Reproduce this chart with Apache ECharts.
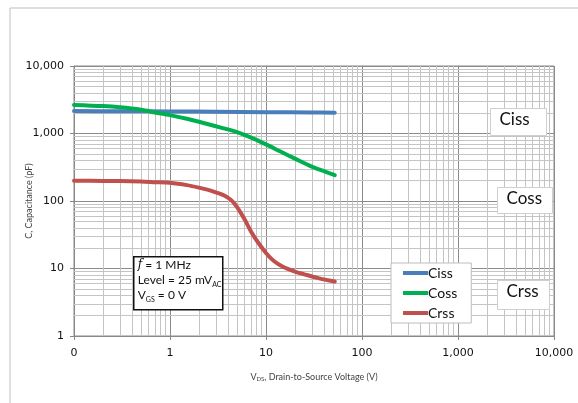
<!DOCTYPE html>
<html>
<head>
<meta charset="utf-8">
<script src="https://cdn.jsdelivr.net/npm/echarts@6/dist/echarts.min.js"></script>
<style>
  html, body { margin: 0; padding: 0; background: #fff; }
  #chart { width: 578px; height: 403px; }
</style>
</head>
<body>
<div id="chart"></div>
<script>
// axis ranges (log decades)
const xTicks = [0.1, 1, 10, 100, 1000, 10000];
const yTicks = [1, 10, 100, 1000, 10000];

// Ciss / Coss / Crss, V_DS in volts, C in pF
const cissV = [0.1, 0.3, 1, 3, 10, 30, 52];
const cissC = [2150, 2140, 2120, 2100, 2070, 2050, 2030];

const cossV = [0.1, 0.2, 0.3, 0.5, 0.7, 1, 1.5, 2, 3, 4, 5, 7, 10, 14, 20, 30, 40, 52];
const cossC = [2650, 2550, 2450, 2250, 2050, 1870, 1650, 1490, 1280, 1150, 1050, 870, 690, 545, 425, 323, 276, 241];

const crssV = [0.1, 0.2, 0.3, 0.5, 0.7, 1, 1.5, 2, 2.5, 3, 3.5, 4, 4.5, 5, 6, 7, 8, 10, 12, 15, 20, 25, 35, 52];
const crssC = [200, 198, 197, 194, 190, 186, 172, 158, 146, 134, 124, 112, 98, 81, 53, 35, 26, 17, 13, 10.6, 9, 8.2, 7.2, 6.4];

const seriesNames = ['Ciss', 'Coss', 'Crss'];
const seriesColors = ['#4a7ebb', '#00b050', '#c0504d'];

const chart = echarts.init(document.getElementById('chart'));

// minor log grid lines (2..9 in every decade)
const minorX = [];
for (let d = 0; d < xTicks.length - 1; d++) {
  for (let k = 2; k <= 9; k++) minorX.push({ xAxis: xTicks[d] * k });
}
const minorY = [];
for (let d = 0; d < yTicks.length - 1; d++) {
  for (let k = 2; k <= 9; k++) minorY.push({ yAxis: yTicks[d] * k });
}

const pairs = (xs, ys) => xs.map((x, i) => [x, ys[i]]);
const fmt = v => (v < 0.5 ? '0' : Math.round(v).toLocaleString('en-US'));

const curve = (name, xs, ys, i) => ({
  name,
  type: 'line',
  data: pairs(xs, ys),
  smooth: 0.3,
  symbol: 'none',
  z: 6,
  lineStyle: { color: seriesColors[i], width: 4, cap: 'round', join: 'round' },
  itemStyle: { color: seriesColors[i] },
});

const labelBox = (text, left, top, w, h) => ({
  type: 'group',
  left, top,
  z: 100,
  children: [
    { type: 'rect', z: 100, shape: { x: 0, y: 0, width: w, height: h },
      style: { fill: '#fff', stroke: '#cfcfcf', lineWidth: 1 } },
    { type: 'text', z: 101, left: 9, top: 3,
      style: { text, font: '17px Lato', fill: '#111' } },
  ],
});

const option = {
  animation: false,
  backgroundColor: '#fff',
  grid: { left: 74, right: 24, top: 66, bottom: 67, show: true, borderColor: '#888', borderWidth: 1 },
  xAxis: {
    type: 'log',
    logBase: 10,
    min: 0.1,
    max: 10000,
    splitNumber: 5,
    name: 'V{s|DS}, Drain-to-Source Voltage (V)',
    nameLocation: 'middle',
    nameMoveOverlap: false,
    nameGap: 37,
    nameTextStyle: {
      fontFamily: 'Lato', fontSize: 9, color: '#444',
      rich: { s: { fontFamily: 'Lato', fontSize: 6, color: '#444', verticalAlign: 'bottom', lineHeight: 6 } },
    },
    axisLine: { lineStyle: { color: '#888' } },
    axisTick: { show: true, length: 4, lineStyle: { color: '#888' } },
    axisLabel: { formatter: fmt, fontFamily: 'DejaVu Sans', fontSize: 11, color: '#111', margin: 12 },
    splitLine: { show: true, lineStyle: { color: '#8c8c8c', width: 1 } },
  },
  yAxis: {
    type: 'log',
    logBase: 10,
    min: 1,
    max: 10000,
    splitNumber: 4,
    name: 'C, Capacitance (pF)',
    nameLocation: 'middle',
    nameRotate: 90,
    nameMoveOverlap: false,
    nameGap: 40,
    nameTextStyle: { fontFamily: 'Lato', fontSize: 9, color: '#444' },
    axisLine: { show: true, lineStyle: { color: '#888' } },
    axisTick: { show: true, length: 4, lineStyle: { color: '#888' } },
    axisLabel: { formatter: fmt, fontFamily: 'DejaVu Sans', fontSize: 11, color: '#111', margin: 10 },
    splitLine: { show: true, lineStyle: { color: '#8c8c8c', width: 1 } },
  },
  legend: {
    data: seriesNames,
    orient: 'vertical',
    left: 391,
    top: 263,
    z: 50,
    icon: 'rect',
    itemWidth: 25,
    itemHeight: 4,
    itemGap: 4,
    padding: [2, 14, 2, 12],
    backgroundColor: '#fff',
    borderColor: '#bdbdbd',
    borderWidth: 1,
    borderRadius: 0,
    textStyle: { fontFamily: 'Lato', fontSize: 14, color: '#111', padding: [0, 0, 0, -5], lineHeight: 16 },
  },
  series: [
    {
      name: 'grid',
      type: 'line',
      data: [],
      silent: true,
      z: 1,
      markLine: {
        silent: true,
        z: 1,
        symbol: ['none', 'none'],
        label: { show: false },
        animation: false,
        lineStyle: { color: '#c4c4c4', width: 1, type: 'solid' },
        data: minorX.concat(minorY),
      },
    },
    curve(seriesNames[0], cissV, cissC, 0),
    curve(seriesNames[1], cossV, cossC, 1),
    curve(seriesNames[2], crssV, crssC, 2),
  ],
  graphic: [
    // outer frame (top and left edges only visible)
    { type: 'line', shape: { x1: 10, y1: 8, x2: 578, y2: 8 }, style: { stroke: '#bfbfbf', lineWidth: 1 } },
    { type: 'line', shape: { x1: 10, y1: 8, x2: 10, y2: 403 }, style: { stroke: '#bfbfbf', lineWidth: 1 } },
    labelBox('Ciss', 490, 108, 56, 27),
    labelBox('Coss', 497, 187, 55, 26),
    labelBox('Crss', 497, 280, 52, 29),
    {
      type: 'group',
      left: 133, top: 256,
      z: 100,
      children: [
        { type: 'rect', z: 100, shape: { x: 0, y: 0, width: 89, height: 53 },
          style: { fill: '#fff', stroke: '#111', lineWidth: 1.5 } },
        { type: 'text', z: 101, left: 4, top: 1,
          style: {
            text: '{i|f} = 1 MHz\nLevel = 25 mV{s|AC}\nV{s|GS} = 0 V',
            font: '12px Lato',
            fill: '#111',
            lineHeight: 15,
            rich: {
              i: { fontFamily: 'DejaVu Serif', fontStyle: 'italic', fontSize: 12, lineHeight: 15 },
              s: { fontFamily: 'Lato', fontSize: 7, lineHeight: 10, verticalAlign: 'bottom' },
            },
          } },
      ],
    },
  ],
};

chart.setOption(option);
</script>
</body>
</html>
